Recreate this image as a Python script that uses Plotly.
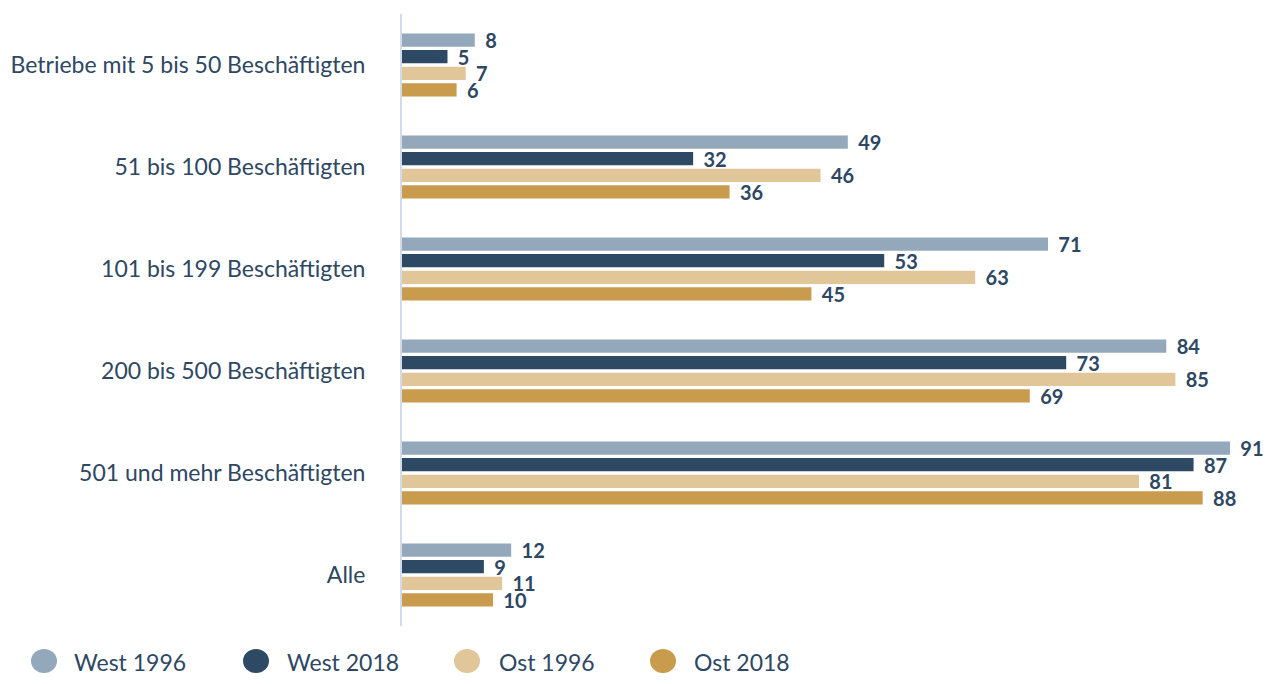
import plotly.graph_objects as go

categories = ["Betriebe mit 5 bis 50 Beschäftigten", "51 bis 100 Beschäftigten",
              "101 bis 199 Beschäftigten", "200 bis 500 Beschäftigten",
              "501 und mehr Beschäftigten", "Alle"]
series_names = ["West 1996", "West 2018", "Ost 1996", "Ost 2018"]
west_1996 = [8, 49, 71, 84, 91, 12]
west_2018 = [5, 32, 53, 73, 87, 9]
ost_1996 = [7, 46, 63, 85, 81, 11]
ost_2018 = [6, 36, 45, 69, 88, 10]
colors = ["#94a8bb", "#2e4964", "#e0c698", "#c99b4c"]

FONT = "Lato"
TEXT_COLOR = "#2e4763"

fig = go.Figure()
for name, vals, col in zip(series_names, [west_1996, west_2018, ost_1996, ost_2018], colors):
    fig.add_trace(go.Bar(
        y=categories, x=vals, name=name, orientation="h",
        marker=dict(color=col, line=dict(width=0)),
        text=vals, texttemplate="\u00a0\u2009%{x}", textposition="outside",
        textfont=dict(family=FONT, size=20, color=TEXT_COLOR, weight="bold"),
        constraintext="none", cliponaxis=False, showlegend=False,
    ))

# page body has an 8px margin; compensate so the figure sits like the reference
OFF = 8
plot_left = 402 - OFF
legend_circle_px = [44, 256, 467, 663]
legend_text_px = [72, 285, 497, 692]
legend_dy_circle = -(661 - 626)
legend_dy_text = -(662 - 626)
shapes = []
annotations = []
for name, col, cx, tx in zip(series_names, colors, legend_circle_px, legend_text_px):
    cxp = cx - OFF
    txp = tx - OFF
    shapes.append(dict(type="circle", xref="paper", yref="paper", xsizemode="pixel", ysizemode="pixel",
                       xanchor=0, yanchor=0, x0=cxp - plot_left - 13, x1=cxp - plot_left + 13,
                       y0=legend_dy_circle - 12, y1=legend_dy_circle + 12, fillcolor=col, line=dict(width=0)))
    annotations.append(dict(xref="paper", yref="paper", x=0, y=0, xanchor="left", yanchor="middle",
                            xshift=txp - plot_left, yshift=legend_dy_text, text=name, showarrow=False,
                            font=dict(family=FONT, size=23, color=TEXT_COLOR)))

fig_w = 1273 - 2 * OFF
fig_h = 684 - 2 * OFF
fig.update_layout(
    width=fig_w, height=fig_h,
    margin=dict(l=402 - OFF, r=0, t=14 - OFF, b=(fig_h + OFF) - 626),
    barmode="group", bargap=0.35, bargroupgap=0.2,
    plot_bgcolor="white", paper_bgcolor="white",
    font=dict(family=FONT, color=TEXT_COLOR),
    xaxis=dict(range=[0, 94.85], visible=False, showgrid=False, zeroline=False),
    yaxis=dict(autorange="reversed", showline=True, linecolor="#d3dbeb", linewidth=2,
               ticks="", ticklabelstandoff=30, tickfont=dict(family=FONT, size=23, color=TEXT_COLOR),
               showgrid=False),
    shapes=shapes, annotations=annotations,
)
fig.write_html("out.html")
